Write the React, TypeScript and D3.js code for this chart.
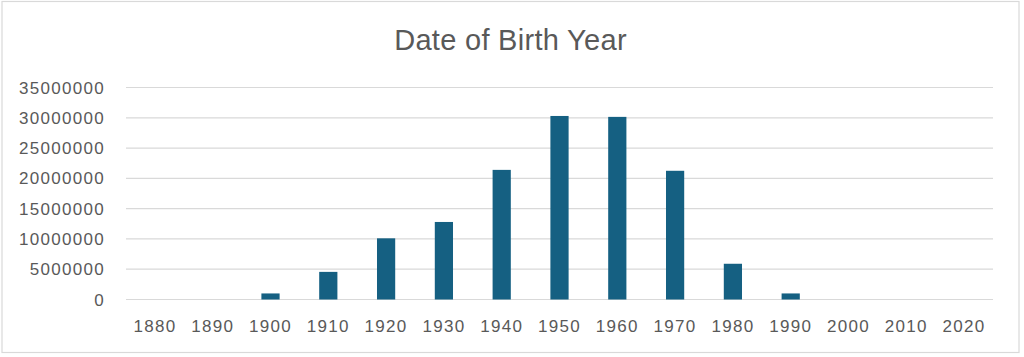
import React from "react";
import * as d3 from "d3";

const categories = ["1880","1890","1900","1910","1920","1930","1940","1950","1960","1970","1980","1990","2000","2010","2020"];
const values = [0, 0, 1000000, 4560000, 10100000, 12800000, 21400000, 30300000, 30150000, 21250000, 5900000, 1000000, 0, 0, 0];
const yTicks = [0, 5000000, 10000000, 15000000, 20000000, 25000000, 30000000, 35000000];
const title = "Date of Birth Year";

const W = 1024;
const H = 357;
const left = 126;
const right = 993;
const top = 87.5;
const bottom = 299.5;
const FONT = "'Liberation Sans', Arial, sans-serif";

export default function App() {
  const x = d3.scaleBand<string>().domain(categories).range([left, right]).paddingInner(0.685).paddingOuter(0.3425);
  const y = d3.scaleLinear().domain([0, 35000000]).range([bottom, top]);
  return (
    <svg width={W} height={H} style={{ position: "absolute", left: 0, top: 0, background: "#fff" }}>
      <rect x={0} y={0} width={W} height={H} fill="#fff" />
      <rect x={2} y={1.5} width={1017} height={351} fill="#fff" stroke="#d9d9d9" strokeWidth={1.2} />
      <text x={510.5} y={49.5} textAnchor="middle" fontFamily={FONT} fontSize={29} letterSpacing={0.3} fill="#595959">{title}</text>
      {yTicks.map((t) => (
        <g key={t}>
          <line x1={left} x2={right} y1={y(t)} y2={y(t)} stroke="#d9d9d9" strokeWidth={1.2} />
          <text x={105} y={y(t)} dy="0.36em" textAnchor="end" fontFamily={FONT} fontSize={17} letterSpacing={1.3} fill="#595959">{t}</text>
        </g>
      ))}
      {categories.map((c, i) => (
        <rect key={c} x={x(c)} y={y(values[i])} width={x.bandwidth()} height={y(0) - y(values[i])} fill="#156082" />
      ))}
      {categories.map((c) => (
        <text key={c} x={(x(c) as number) + x.bandwidth() / 2} y={332} textAnchor="middle" fontFamily={FONT} fontSize={17} letterSpacing={1.3} fill="#595959">{c}</text>
      ))}
    </svg>
  );
}
